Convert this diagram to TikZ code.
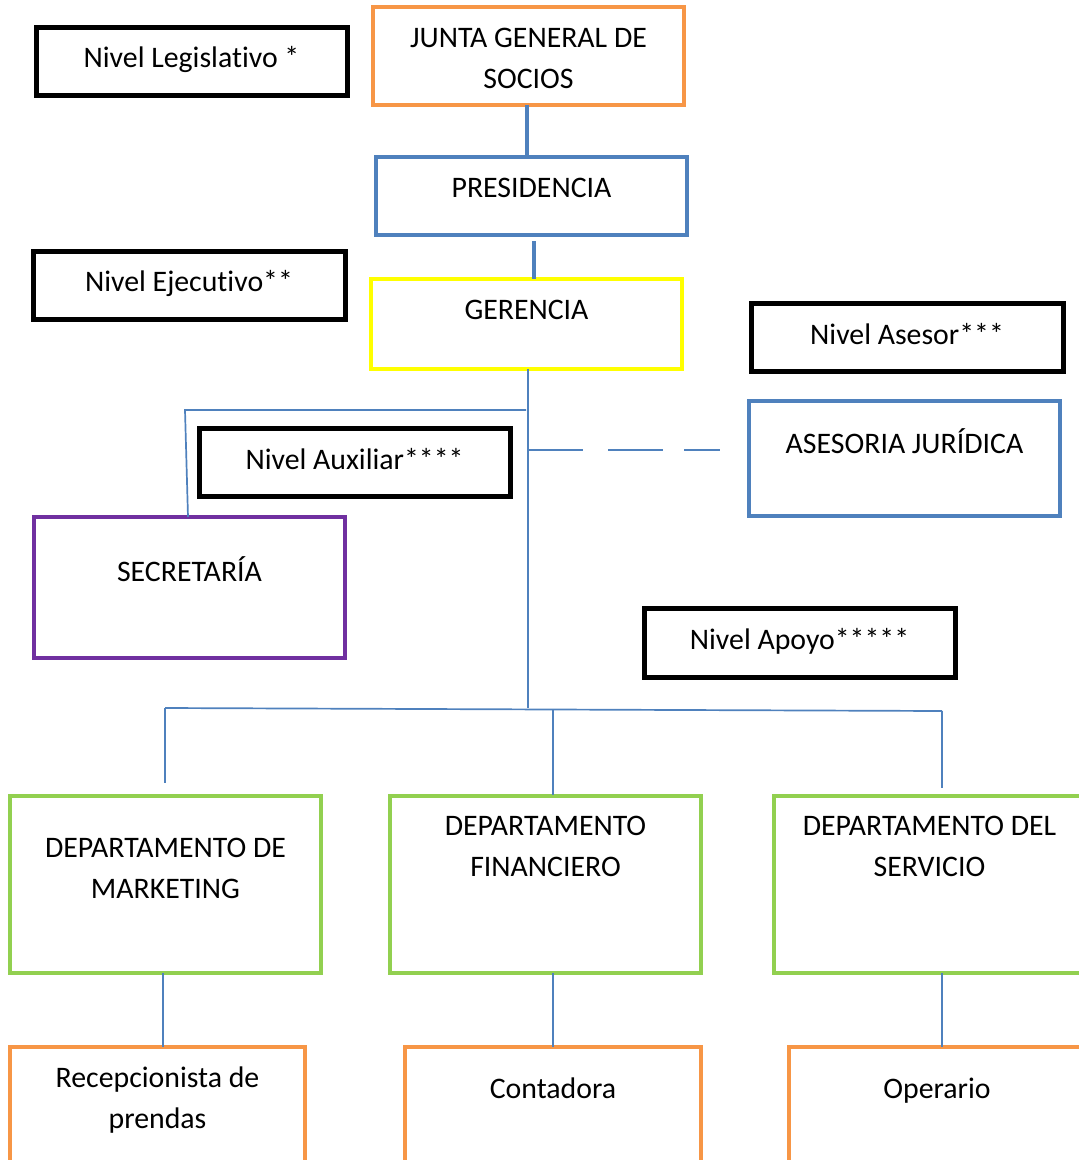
\documentclass[tikz,border=0pt]{standalone}
\usepackage{fontspec}
\setmainfont{Carlito}[Ligatures=NoCommon]
\usetikzlibrary{calc}
\definecolor{cOrange}{HTML}{F79646}
\definecolor{cBlue}{HTML}{4F81BD}
\definecolor{cYellow}{HTML}{FFFF00}
\definecolor{cPurple}{HTML}{7030A0}
\definecolor{cGreen}{HTML}{92D050}
\begin{document}
\begin{tikzpicture}[x=1pt,y=-1pt,
  orgbox/.style={draw, line width=4.5pt, inner sep=0pt, outer sep=0pt},
  lvlbox/.style={orgbox, draw=black, line width=5pt, minimum width=311pt, minimum height=68pt},
  txt/.style={inner sep=0pt, outer sep=0pt, anchor=base, font=\fontsize{29.8}{41}\selectfont},
  link/.style={draw=cBlue, line width=1.7pt},
  thicklink/.style={draw=cBlue, line width=4pt}]
\newcommand{\twolines}[2]{\begin{tabular}[t]{@{}c@{}}#1\\#2\end{tabular}}
\useasboundingbox (0,0) rectangle (1079,1160);
\clip (0,0) rectangle (1079,1160);

% level labels
\node[lvlbox] (leg) at (191.5,61) {};
\node[lvlbox, minimum width=312pt] (eje) at (189,285) {};
\node[lvlbox, minimum width=312pt] (asr) at (907,337) {};
\node[lvlbox] (aux) at (354.5,462) {};
\node[lvlbox, minimum height=69pt] (apo) at (799.5,642.5) {};

% organisation boxes
\node[orgbox, draw=cOrange, minimum width=311pt, minimum height=98pt] (junta) at (528.5,56) {};
\node[orgbox, draw=cBlue, minimum width=311pt, minimum height=78pt] (pres) at (531.5,196) {};
\node[orgbox, draw=cYellow, minimum width=311pt, minimum height=90pt] (ger) at (526.5,324) {};
\node[orgbox, draw=cBlue, minimum width=311pt, minimum height=115pt] (jur) at (904.5,458.5) {};
\node[orgbox, draw=cPurple, minimum width=311pt, minimum height=141pt] (sec) at (189.5,587.5) {};
\node[orgbox, draw=cGreen, minimum width=311pt, minimum height=177pt] (mk) at (165.5,884.5) {};
\node[orgbox, draw=cGreen, minimum width=311pt, minimum height=177pt] (fin) at (545.5,884.5) {};
\node[orgbox, draw=cGreen, minimum width=311pt, minimum height=177pt] (srv) at (929.5,884.5) {};
\node[orgbox, draw=cOrange, minimum width=295pt, minimum height=143pt] (rec) at (157.5,1118.5) {};
\node[orgbox, draw=cOrange, minimum width=296pt, minimum height=143pt] (con) at (553,1118.5) {};
\node[orgbox, draw=cOrange, minimum width=296pt, minimum height=143pt] (ope) at (937,1118.5) {};

% texts
\node[txt] (tleg) at ([yshift=-40pt]leg.north) {Nivel Legislativo *};
\node[txt] (teje) at ([yshift=-40pt]eje.north) {Nivel Ejecutivo**};
\node[txt] (tasr) at ([yshift=-41pt]asr.north) {Nivel Asesor***};
\node[txt] (taux) at ([yshift=-41pt]aux.north) {Nivel Auxiliar****};
\node[txt] (tapo) at ([yshift=-41pt]apo.north) {Nivel Apoyo*****};
\node[txt] (tjunta) at ([yshift=-40pt]junta.north) {\twolines{JUNTA GENERAL DE}{SOCIOS}};
\node[txt] (tpres) at ([yshift=-40pt]pres.north) {PRESIDENCIA};
\node[txt] (tger) at ([yshift=-40pt]ger.north) {GERENCIA};
\node[txt] (tjur) at ([yshift=-52pt]jur.north) {ASESORIA JURÍDICA};
\node[txt] (tsec) at ([yshift=-64pt]sec.north) {SECRETARÍA};
\node[txt] (tmk) at ([yshift=-61pt]mk.north) {\twolines{DEPARTAMENTO DE}{MARKETING}};
\node[txt] (tfin) at ([yshift=-39pt]fin.north) {\twolines{DEPARTAMENTO}{FINANCIERO}};
\node[txt] (tsrv) at ([yshift=-39pt]srv.north) {\twolines{DEPARTAMENTO DEL}{SERVICIO}};
\node[txt] (trec) at ([yshift=-40pt]rec.north) {\twolines{Recepcionista de}{prendas}};
\node[txt] (tcon) at ([yshift=-51pt]con.north) {Contadora};
\node[txt] (tope) at ([yshift=-51pt]ope.north) {Operario};

% connectors
\draw[thicklink] ([xshift=-1.5pt]junta.south) -- ([xshift=-4.5pt]pres.north);
\draw[thicklink] ([xshift=2.5pt,yshift=-6pt]pres.south) -- ([xshift=7.5pt]ger.north);

\coordinate (bus) at (528,708);
\draw[link] ([xshift=1.5pt]ger.south) -- (bus);

\coordinate (secJ) at (526,410);
\coordinate (secK) at (185,410);
\draw[link] (secJ) -- (secK) -- ([xshift=-1.5pt]sec.north);

\coordinate (dashS) at (528,450);
\draw[link, dash pattern=on 55pt off 25pt on 55pt off 21pt on 40pt, shorten >=29pt] (dashS) -- (dashS -| jur.west);

\coordinate (busL) at (165,708);
\coordinate (busM) at (553,709.5);
\coordinate (busR) at (942,711);
\draw[link] (busL) -- (busR);
\draw[link, shorten >=13pt] (busL) -- (busL |- mk.north);
\draw[link, shorten >=1pt] (busM) -- (busM |- fin.north);
\draw[link, shorten >=8pt] (busR) -- (busR |- srv.north);

\draw[link] ([xshift=-2.5pt]mk.south) -- ([xshift=5.5pt]rec.north);
\draw[link] ([xshift=7.5pt]fin.south) -- (con.north);
\draw[link] ([xshift=12.5pt]srv.south) -- ([xshift=5pt]ope.north);
\end{tikzpicture}
\end{document}
